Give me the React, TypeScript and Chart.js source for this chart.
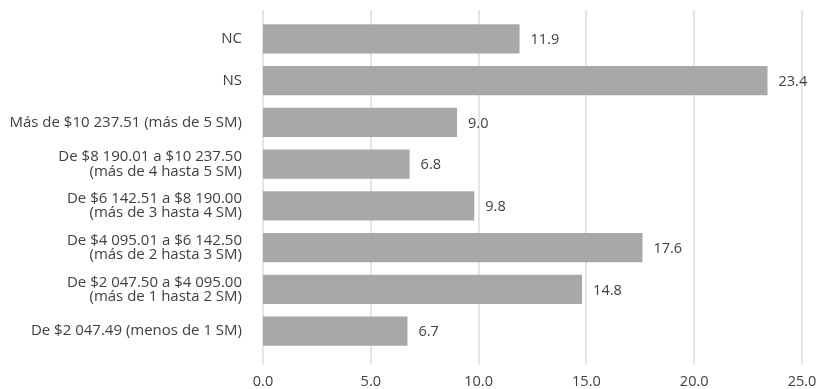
import React, { useEffect, useRef } from "react";
import { Chart, registerables } from "chart.js";

Chart.register(...registerables);

const categories: (string | string[])[] = [
  "NC",
  "NS",
  "Más de $10 237.51 (más de 5 SM)",
  ["De $8 190.01 a $10 237.50", "(más de 4 hasta 5 SM)"],
  ["De $6 142.51 a $8 190.00", "(más de 3 hasta 4 SM)"],
  ["De $4 095.01 a $6 142.50", "(más de 2 hasta 3 SM)"],
  ["De $2 047.50 a $4 095.00", "(más de 1 hasta 2 SM)"],
  "De $2 047.49 (menos de 1 SM)",
];
const values = [11.9, 23.4, 9.0, 6.8, 9.8, 17.6, 14.8, 6.7];
const xTicks = [0, 5, 10, 15, 20, 25];

const FONT = "'Open Sans', Lato, sans-serif";
const TEXT = "#404040";

const gridPlugin = {
  id: "customGrid",
  beforeDatasetsDraw(chart: any) {
    const { ctx } = chart;
    const xs = chart.scales.x;
    ctx.save();
    ctx.strokeStyle = "#dcdcdc";
    ctx.lineWidth = 1.5;
    for (const v of xTicks) {
      const px = Math.round(xs.getPixelForValue(v));
      ctx.beginPath();
      ctx.moveTo(px, 10);
      ctx.lineTo(px, 365);
      ctx.stroke();
    }
    ctx.restore();
  },
};

const labelPlugin = {
  id: "valueLabels",
  afterDatasetsDraw(chart: any) {
    const { ctx } = chart;
    const meta = chart.getDatasetMeta(0);
    ctx.save();
    ctx.font = `14.5px ${FONT}`;
    ctx.fillStyle = TEXT;
    ctx.textAlign = "left";
    ctx.textBaseline = "middle";
    meta.data.forEach((bar: any, i: number) => {
      ctx.fillText(values[i].toFixed(1), bar.x + 11, bar.y + 1);
    });
    ctx.restore();
  },
};

export default function App() {
  const ref = useRef<HTMLCanvasElement | null>(null);
  useEffect(() => {
    document.body.style.margin = "0";
    const chart = new Chart(ref.current!, {
      type: "bar",
      data: {
        labels: categories,
        datasets: [
          {
            data: values,
            backgroundColor: "#a7a8aa",
            barPercentage: 0.7,
            categoryPercentage: 1,
          },
        ],
      },
      options: {
        indexAxis: "y",
        animation: false,
        responsive: false,
        layout: { padding: { top: 18, right: 15, left: 0, bottom: 0 } },
        plugins: {
          legend: { display: false },
          tooltip: { enabled: false },
        },
        scales: {
          x: {
            min: 0,
            max: 25,
            grid: { display: false },
            border: { display: false },
            afterFit: (s: any) => {
              s.height = 37;
              s.paddingLeft = 0;
              s.paddingRight = 0;
            },
            afterBuildTicks: (s: any) => {
              s.ticks = xTicks.map((v) => ({ value: v }));
            },
            ticks: {
              padding: 13,
              color: TEXT,
              font: { family: FONT, size: 14.5 },
              callback: (v: any) => Number(v).toFixed(1),
            },
          },
          y: {
            grid: { display: false, drawTicks: false },
            border: { display: false },
            afterFit: (s: any) => {
              s.width = 263;
              s.paddingTop = 0;
              s.paddingBottom = 0;
            },
            ticks: {
              padding: 21,
              color: TEXT,
              font: { family: FONT, size: 15, lineHeight: 0.95 },
            },
          },
        },
      },
      plugins: [gridPlugin, labelPlugin],
    });
    return () => chart.destroy();
  }, []);
  return (
    <div style={{ width: 817, height: 389 }}>
      <canvas ref={ref} width={817} height={389} />
    </div>
  );
}
